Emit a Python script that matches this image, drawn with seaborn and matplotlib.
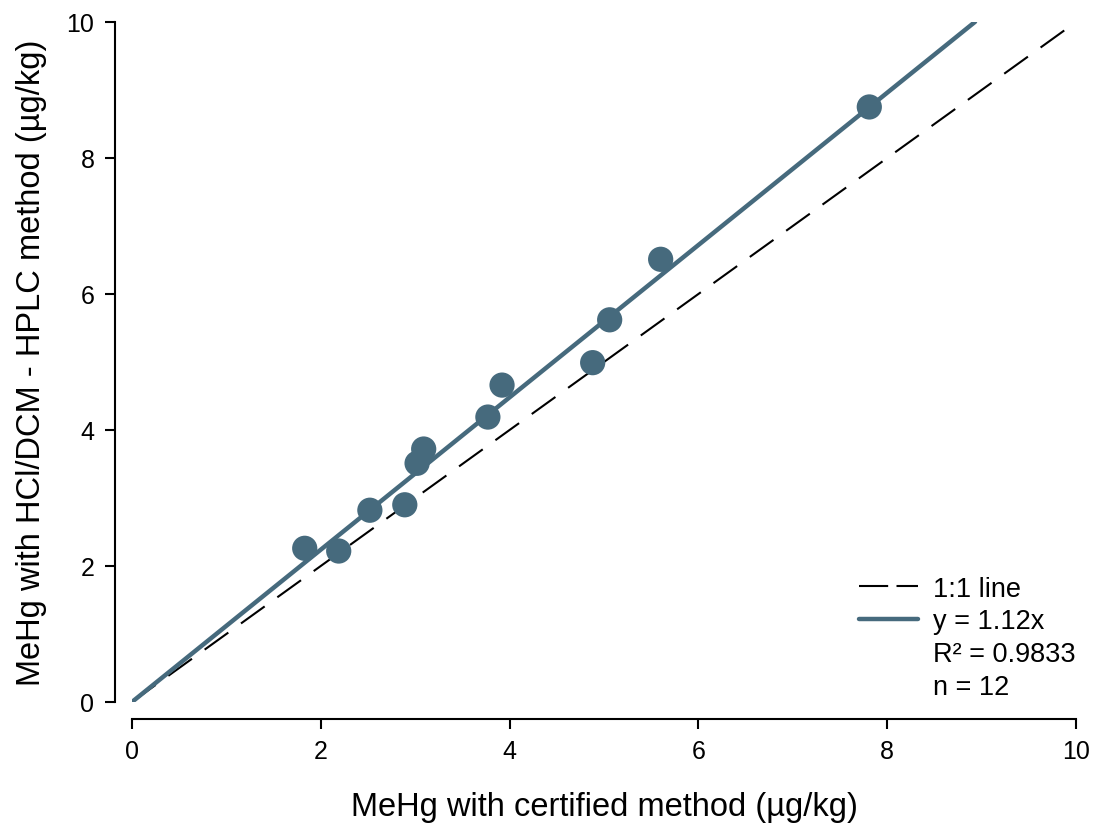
import matplotlib
matplotlib.use("Agg")
import matplotlib.pyplot as plt
import seaborn as sns
import numpy as np
import pandas as pd
from matplotlib.lines import Line2D

certified = [1.83, 2.19, 2.52, 2.89, 3.02, 3.09, 3.77, 3.92, 4.88, 5.06, 5.60, 7.81]
hplc = [2.26, 2.22, 2.82, 2.90, 3.51, 3.72, 4.19, 4.66, 4.99, 5.62, 6.51, 8.75]
slope = 1.12
r2 = 0.9833
fit_range = [0, 8.93]
one_to_one = [0, 10]

df = pd.DataFrame({"certified": certified, "hplc": hplc})
fit_x = np.array(fit_range)
fit_df = pd.DataFrame({"x": fit_x, "y": slope * fit_x})
ref_df = pd.DataFrame({"x": one_to_one, "y": one_to_one})

sns.set_theme(style="ticks")
plt.rcParams['font.family'] = ['Liberation Sans', 'DejaVu Sans']
plt.rcParams['text.color'] = 'black'
plt.rcParams['axes.labelcolor'] = 'black'

color = '#466a7d'
dash = (0, (14, 7.5))
fig = plt.figure(figsize=(10.96, 8.29), dpi=100)
ax = fig.add_axes([0.1204, 0.152, 0.8614, 0.8203])

sns.lineplot(data=ref_df, x="x", y="y", ax=ax, color='black', lw=1.5,
             linestyle=dash)
sns.lineplot(data=fit_df, x="x", y="y", ax=ax, color=color, lw=3.2)
sns.scatterplot(data=df, x="certified", y="hplc", ax=ax, color=color,
                s=330, edgecolor='none', zorder=3)

ax.set_xlim(0, 10)
ax.set_ylim(0, 10)
ax.set_xticks(range(0, 11, 2))
ax.set_yticks(range(0, 11, 2))
ax.tick_params(labelsize=18, length=7, width=1.5, pad=8, colors='black')
ax.set_xlabel('MeHg with certified method (µg/kg)', fontsize=23.5, labelpad=20)
ax.set_ylabel('MeHg with HCl/DCM - HPLC method (µg/kg)', fontsize=23.5, labelpad=14)
for sp in ax.spines.values():
    sp.set_linewidth(1.5)
    sp.set_color('black')
sns.despine(ax=ax, offset=12, trim=True)

handles = [
    Line2D([], [], color='black', lw=1.5, linestyle=(0, (14, 4))),
    Line2D([], [], color=color, lw=3.2),
    Line2D([], [], color='none'),
    Line2D([], [], color='none'),
]
labels = ['1:1 line', f'y = {slope}x', f'R² = {r2}', f'n = {len(certified)}']
ax.legend(handles, labels, loc='lower right', frameon=False, fontsize=19.5,
          handlelength=2.2, handletextpad=0.55, labelspacing=0.25,
          borderaxespad=0.3, bbox_to_anchor=(1.02, -0.025))

fig.savefig('out.png', dpi=100)
